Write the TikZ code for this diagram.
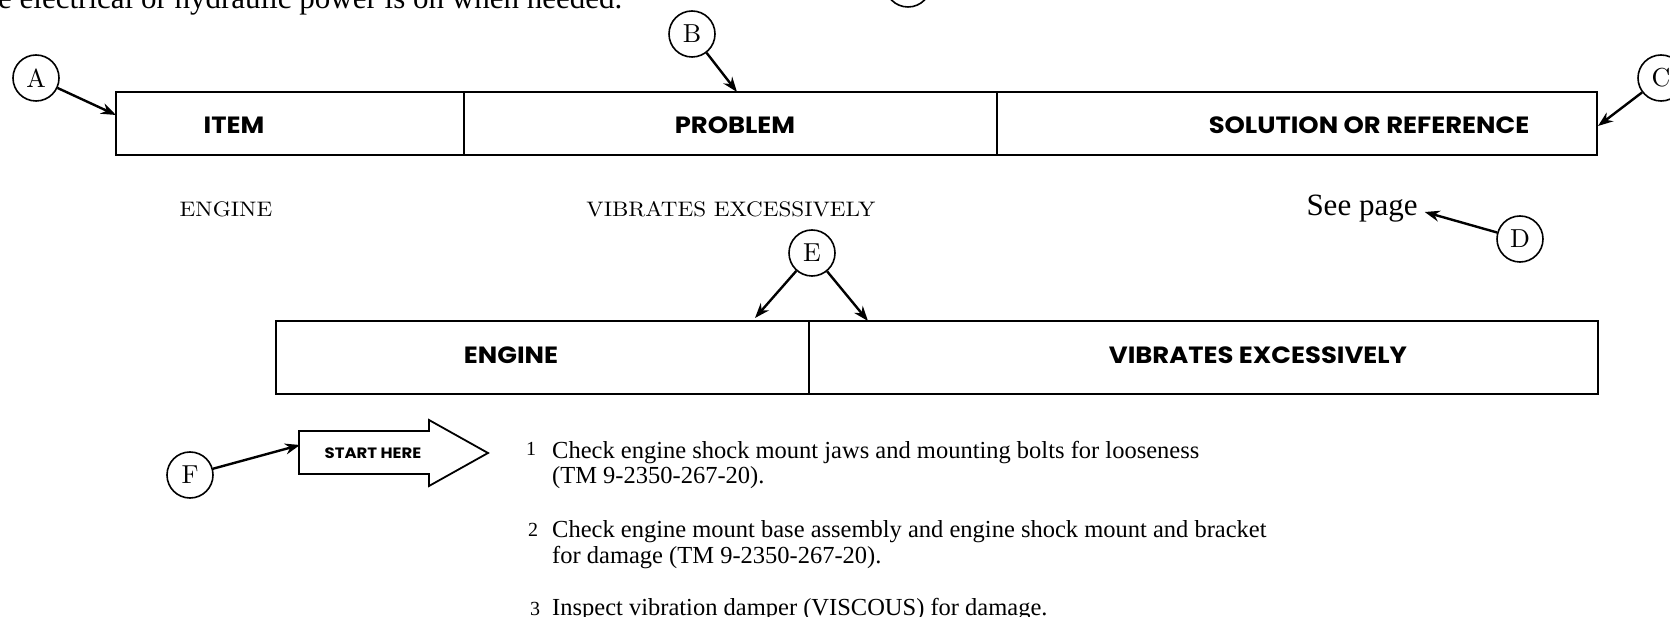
\documentclass[tikz,border=0pt]{standalone}
\usepackage{fontspec}
\newfontfamily\tfont{Liberation Serif}
\newfontfamily\hfont[FakeStretch=1.1]{Poppins}
\newfontfamily\lmw[FakeStretch=1.1]{lmroman10-regular.otf}
\newfontfamily\lmc{lmroman10-regular.otf}
\usetikzlibrary{arrows.meta}
\tikzset{
  circ/.style={draw,circle,line width=1.6pt,minimum size=46pt,inner sep=0pt,font=\lmc\fontsize{26}{26}\selectfont},
  arr/.style={line width=2.4pt,-{Stealth[length=15pt,width=11pt]}},
  boxl/.style={line width=2.2pt},
  head/.style={font=\hfont\bfseries\fontsize{23.5}{23.5}\selectfont},
  mid/.style={font=\lmw\fontsize{21}{21}\selectfont},
  body/.style={font=\tfont\fontsize{24.5}{26}\selectfont,inner sep=0pt,anchor=base west},
  num/.style={font=\tfont\fontsize{20}{20}\selectfont,inner sep=0pt,anchor=base west},
}
\begin{document}
\begin{tikzpicture}[x=1pt,y=-1pt]
\useasboundingbox (0,0) rectangle (1670,617);
% top cut-off text
\node[font=\tfont\fontsize{31}{31}\selectfont,inner sep=0pt,anchor=base west] (toptext) at (-2,9) {e electrical or hydraulic power is on when needed.};
\node[circ] (G) at (908,-16) {};
% top table
\draw[boxl] (116,92) rectangle (1597,155);
\draw[boxl] (464,92) -- (464,155) (997,92) -- (997,155);
\node[head] (item) at (234,125) {ITEM};
\node[head] (problem) at (735,125) {PROBLEM};
\node[head] (sol) at (1369,125) {SOLUTION OR REFERENCE};
\coordinate (tA) at (116,115);
\coordinate (tB) at (737,92);
\coordinate (tC) at (1598,126);
\node[circ] (A) at (36,78) {A};
\node[circ] (B) at (692,34) {B};
\node[circ] (C) at (1661,78) {C};
\draw[arr] (A) -- (tA);
\draw[arr] (B) -- (tB);
\draw[arr] (C) -- (tC);
% middle row
\node[mid] (eng) at (226,209) {ENGINE};
\node[mid] (vib) at (731,209) {VIBRATES EXCESSIVELY};
\node[font=\tfont\fontsize{31}{31}\selectfont,inner sep=0pt] (see) at (1362,209) {See page};
\coordinate (tD) at ([xshift=7pt,yshift=-3pt]see.east);
\node[circ] (D) at (1520,239) {D};
\draw[arr] (D) -- (tD);
% bottom table
\draw[boxl] (276,321) rectangle (1598,394);
\draw[boxl] (809,321) -- (809,394);
\node[head] (eng2) at (511,355) {ENGINE};
\node[head] (vib2) at (1258,355) {VIBRATES EXCESSIVELY};
\node[circ] (E) at (812,253) {E};
\coordinate (tE1) at (755,318);
\coordinate (tE2) at (868,321);
\draw[arr] (E) -- (tE1);
\draw[arr] (E) -- (tE2);
% start here arrow
\draw[line width=1.8pt,line join=miter] (299,431) -- (429,431) -- (429,420) -- (488,453) -- (429,486) -- (429,474) -- (299,474) -- cycle;
\node[font=\hfont\bfseries\fontsize{15}{15}\selectfont] (start) at (373,453) {START HERE};
\node[circ] (F) at (190,475) {F};
\coordinate (tF) at (300,445);
\draw[arr] (F) -- (tF);
% items
\node[num] (n1) at (526,455) {1};
\node[body] (i1a) at (552,458) {Check engine shock mount jaws and mounting bolts for looseness};
\node[body] (i1b) at (552,483) {(TM 9-2350-267-20).};
\node[num] (n2) at (528,536) {2};
\node[body] (i2a) at (552,537) {Check engine mount base assembly and engine shock mount and bracket};
\node[body] (i2b) at (552,563) {for damage (TM 9-2350-267-20).};
\node[num] (n3) at (530,615) {3};
\node[body] (i3) at (552,615) {Inspect vibration damper (VISCOUS) for damage.};
\end{tikzpicture}
\end{document}
